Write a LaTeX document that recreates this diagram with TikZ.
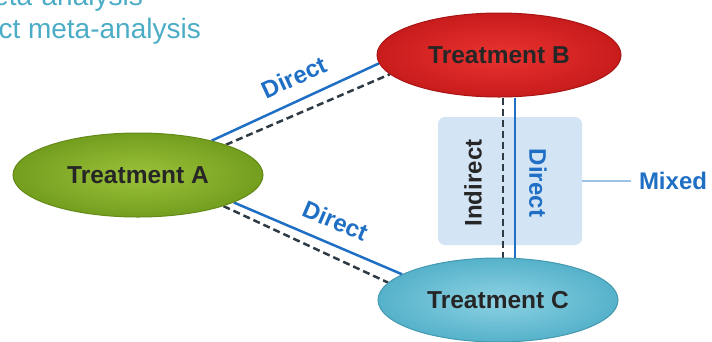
\documentclass[tikz,border=0pt]{standalone}
\usepackage{fontspec}
\setmainfont{Liberation Sans}
\usetikzlibrary{shapes.geometric,backgrounds}

\definecolor{headcol}{HTML}{4BACC6}
\definecolor{linkblue}{HTML}{1F6FC5}
\definecolor{dashcol}{HTML}{2E3B44}
\definecolor{txtdark}{HTML}{262626}
\definecolor{boxfill}{HTML}{D3E4F5}
\definecolor{mixcol}{HTML}{9CC3E5}
\definecolor{greenin}{HTML}{9CC23A}
\definecolor{greenout}{HTML}{739E1E}
\definecolor{greenrim}{HTML}{648A18}
\definecolor{redin}{HTML}{EA3330}
\definecolor{redout}{HTML}{C81C1C}
\definecolor{redrim}{HTML}{A81414}
\definecolor{tealin}{HTML}{8ED2E3}
\definecolor{tealout}{HTML}{55B2CA}
\definecolor{tealrim}{HTML}{4599B0}

\tikzset{
  treat/.style n args={3}{ellipse, draw=#3, line width=1pt, shading=radial,
    inner color=#1, outer color=#2, minimum height=84pt, inner sep=0pt,
    font=\fontsize{24.5}{28}\selectfont\bfseries, text=txtdark},
  direct/.style={linkblue, line width=2.5pt},
  indirect/.style={dashcol, line width=2.5pt, dash pattern=on 7pt off 4pt},
  lbl/.style={font=\fontsize{24}{28}\selectfont\bfseries, text=linkblue},
  headtext/.style={font=\fontsize{28}{32}\selectfont, text=headcol, inner sep=0pt},
  mixbox/.style={fill=boxfill, rounded corners=7pt, minimum width=144pt,
    minimum height=128pt}
}

\begin{document}
\begin{tikzpicture}[x=1pt,y=-1pt]
  \clip (0,0) rectangle (712,341);
  % heading, cut by the frame
  \node[headtext, anchor=base east] (head1) at (143,5) {eta-analysis};
  \node[headtext, anchor=base east] (head2) at (201,38) {ct meta-analysis};
  % treatments
  \node[treat={greenin}{greenout}{greenrim}, minimum width=250pt] (tA) at (138,175) {Treatment A};
  \node[treat={redin}{redout}{redrim}, minimum width=244pt] (tB) at (499,55) {Treatment B};
  \node[treat={tealin}{tealout}{tealrim}, minimum width=240pt] (tC) at (498,300) {Treatment C};
  \begin{pgfonlayer}{background}
    \node[mixbox] (box) at (510,181) {};
    \draw[direct] (tA.25) -- node[lbl, pos=0.55, sloped, above, inner sep=13pt] (dAB) {Direct} (tB.184);
    \draw[indirect] (tA.19) -- (tB.190);
    \draw[direct] (tA.-16) -- node[lbl, pos=0.55, sloped, above, inner sep=13pt] (dAC) {Direct} (tC.165);
    \draw[indirect] (tA.-20) -- (tC.171);
    \draw[indirect] ([xshift=4pt]tB.south) -- ([xshift=4pt]tB.south |- tC.north);
    \draw[direct] ([xshift=16pt]tB.south) -- ([xshift=16pt]tB.south |- tC.north);
  \end{pgfonlayer}
  \node[lbl, text=txtdark, rotate=90] (indBC) at (473,183) {Indirect};
  \node[lbl, rotate=-90] (dBC) at (538,183) {Direct};
  \node[lbl, inner sep=8pt] (mixed) at (673,181) {Mixed};
  \draw[mixcol, line width=1.5pt] (box) -- (mixed);
\end{tikzpicture}
\end{document}
